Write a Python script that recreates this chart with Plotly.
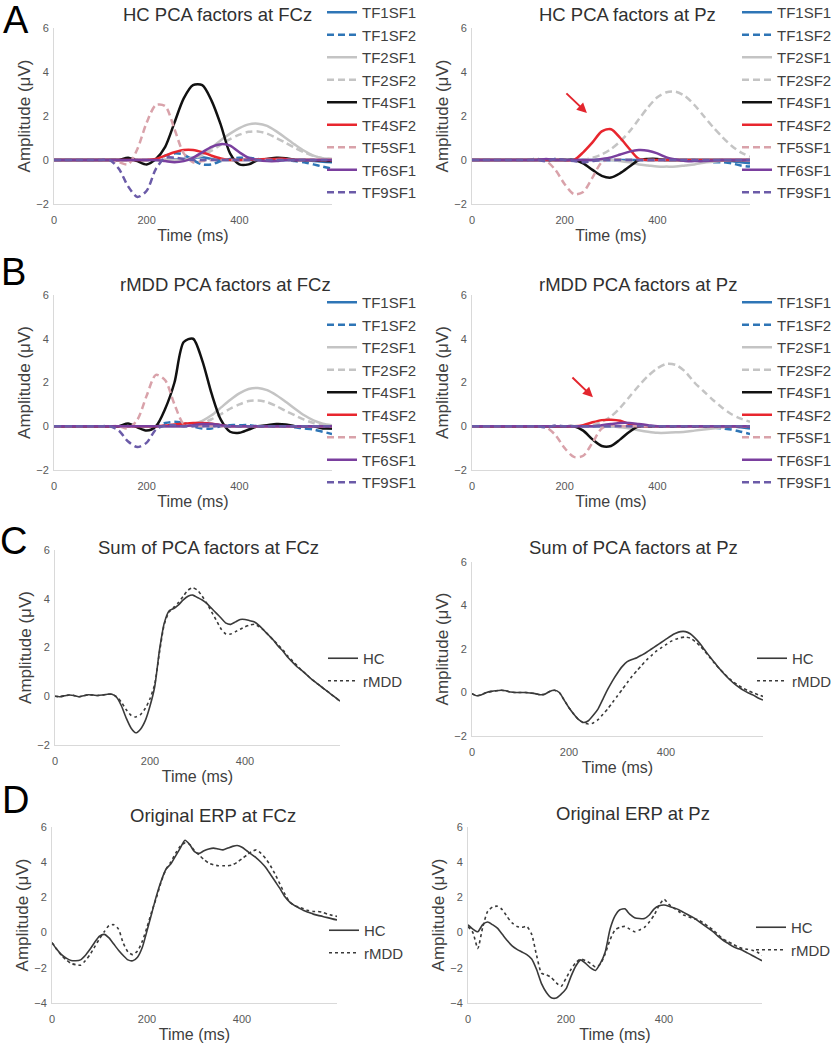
import plotly.graph_objects as go

W, H = 837, 1050
FONT = "Liberation Sans, Arial, Helvetica, sans-serif"

# ---------------- data ----------------
t20 = list(range(0, 601, 20))
t10 = list(range(0, 601, 10))
x_ticks = [0, 200, 400]

factor_names = ["TF1SF1", "TF1SF2", "TF2SF1", "TF2SF2", "TF4SF1",
                "TF4SF2", "TF5SF1", "TF6SF1", "TF9SF1"]

# HC, FCz
hc_fcz_tf1sf1 = [0,0,0,0,0,0,0,0,0,0, 0,0,0,0.02,0.05,0.10,0.12,0.05,0,0, 0,0,0,0,0,0,0,0,-0.05,-0.08, -0.10]
hc_fcz_tf1sf2 = [0,0,0,0,0,0,0,0,0,0, 0,0,0.2,0.3,0.25,0,-0.2,-0.2,-0.05,0.05, 0.1,0.1,0.05,0,0,0,-0.05,-0.1,-0.2,-0.3, -0.4]
hc_fcz_tf2sf1 = [0,0,0,0,0,0,0,0,0,0, 0,0,0,0,0,0.1,0.25,0.55,0.9,1.2, 1.45,1.62,1.65,1.55,1.3,1.0,0.7,0.42,0.2,0.08, 0.05]
hc_fcz_tf2sf2 = [0,0,0,0,0,0,0,0,0,0, 0,0,0,0,0,0.08,0.2,0.42,0.7,0.95, 1.15,1.28,1.3,1.2,1.0,0.78,0.55,0.35,0.18,0.08, 0.05]
hc_fcz_tf4sf1 = [0,0,0,0,0,0,0,0,0.1,-0.05, -0.2,0.05,0.6,1.7,2.8,3.4,3.4,2.7,1.6,0.3, -0.2,-0.2,0,0.05,0.1,0.08,0,0,0,-0.03, -0.05]
hc_fcz_tf4sf2 = [0,0,0,0,0,0,0,0,0,0, 0,0.05,0.2,0.35,0.45,0.45,0.35,0.2,0.07,0, 0,0.02,0.03,0.05,0.05,0.05,0,0,0,0, 0]
hc_fcz_tf5sf1 = [0,0,0,0,0,0,0,-0.1,-0.2,0.5, 1.7,2.5,2.45,1.4,0.3,-0.1,-0.05,0,0,0, 0,0,0,0,0,0,0,0,0,0, 0]
hc_fcz_tf6sf1 = [0,0,0,0,0,0,0,0,0,0, 0,0,-0.05,-0.1,-0.05,0.1,0.35,0.6,0.72,0.65, 0.35,0.1,0,-0.05,-0.05,0,0,0,0,0, 0]
hc_fcz_tf9sf1 = [0,0,0,0,0,0,0,-0.4,-1.2,-1.68, -1.4,-0.4,0.1,0.1,0.05,0,0,0,0,0, 0,0,0,0,0,0,0,0,0,0, 0]

# HC, Pz
hc_pz_tf1sf1 = [0,0,0,0,0,0,0,0,0,0, 0,0,0,0,0,0,0,0,0,0, 0,0,0,0,0,0,0,0,-0.05,-0.1, -0.15]
hc_pz_tf1sf2 = [0,0,0,0,0,0,0,0.05,-0.05,0.05, 0,0,0,0,0,0,0,0,0,0, 0,0,0,0,0,-0.05,-0.1,-0.1,-0.15,-0.25, -0.3]
hc_pz_tf2sf1 = [0,0,0,0,0,0,0,0,0,0, 0,0,0,0,0,0,-0.05,-0.1,-0.2,-0.25, -0.3,-0.3,-0.3,-0.25,-0.2,-0.12,-0.08,-0.04,0,0, 0]
hc_pz_tf2sf2 = [0,0,0,0,0,0,0,0,0,0, 0,0,0,0.1,0.25,0.5,0.85,1.3,1.85,2.4, 2.85,3.08,3.1,2.9,2.5,2.0,1.5,1.05,0.65,0.35, 0.15]
hc_pz_tf4sf1 = [0,0,0,0,0,0,0,0,0,0, 0,0,-0.15,-0.45,-0.72,-0.8,-0.6,-0.3,0,0.05, 0.05,0,0,0,0,0,0,0,0,0, 0]
hc_pz_tf4sf2 = [0,0,0,0,0,0,0,0,0,0, 0,0,0.35,0.8,1.3,1.4,1.0,0.5,0.05,0, 0,0,0,0,0,0,0,0,0,0, 0]
hc_pz_tf5sf1 = [0,0,0,0,0,0,0,0,-0.05,-0.45, -1.1,-1.55,-1.45,-0.8,-0.1,0.05,0.02,0,0,0, 0,0,0,0,0,0,0,0,0,0, 0]
hc_pz_tf6sf1 = [0,0,0,0,0,0,0,0,0.05,0, 0,0,0,0,0.05,0.12,0.25,0.38,0.45,0.42, 0.3,0.12,0.02,-0.05,-0.05,-0.05,-0.02,0,0,0, 0]
hc_pz_tf9sf1 = [0,0,0,0,0,0,0,0,-0.05,0.05, 0,-0.05,-0.1,-0.05,0,0,0,0,0,0, 0,0,0,0,0,0,0,0,0,0, 0]

# rMDD, FCz
md_fcz_tf1sf1 = [0,0,0,0,0,0,0,0,0,0, 0,0,0,0,0,0.05,0.1,0.1,0.05,0, 0,0,0,0,0,0,0,0,0,-0.05, -0.1]
md_fcz_tf1sf2 = [0,0,0,0,0,0,0,0,0,0, 0,0,0.15,0.2,0.15,0,-0.1,-0.1,0,0.05, 0.05,0.05,0,0,0,0,-0.05,-0.1,-0.15,-0.25, -0.35]
md_fcz_tf2sf1 = [0,0,0,0,0,0,0,0,0,0, 0,0,0,0,0,0.1,0.25,0.5,0.85,1.2, 1.5,1.7,1.75,1.65,1.42,1.12,0.8,0.5,0.27,0.12, 0.05]
md_fcz_tf2sf2 = [0,0,0,0,0,0,0,0,0,0, 0,0,0,0,0,0.05,0.15,0.32,0.55,0.8, 1.0,1.15,1.18,1.1,0.92,0.7,0.5,0.3,0.15,0.07, 0.03]
md_fcz_tf4sf1 = [0,0,0,0,0,0,0,0,0.12,-0.05, -0.2,0,0.8,2.0,3.85,4.0,3.0,1.5,0.3,-0.25, -0.3,-0.15,0,0.05,0.1,0.08,0,0,0,-0.1, -0.1]
md_fcz_tf4sf2 = [0,0,0,0,0,0,0,0,0,0, 0,0,0.03,0.08,0.12,0.15,0.15,0.12,0.05,0, 0,0,0,0,0,0,0,0,0,0, 0]
md_fcz_tf5sf1 = [0,0,0,0,0,0,0,0,-0.1,0.3, 1.4,2.35,2.1,1.0,0.1,0,0,0,0,0, 0,0,0,0,0,0,0,0,0,0, 0]
md_fcz_tf6sf1 = [0,0,0,0,0,0,0,0,0,0, 0,0,0,0,0,0.05,0.1,0.1,0.05,0, 0,0,0,0,0,0,0,0,0,0, 0]
md_fcz_tf9sf1 = [0,0,0,0,0,0,0,-0.2,-0.7,-0.95, -0.75,-0.15,0.05,0.05,0,0,0,0,0,0, 0,0,0,0,0,0,0,0,0,0, 0]

# rMDD, Pz
md_pz_tf1sf1 = [0,0,0,0,0,0,0,0,0,0, 0,0,0,0,0,0,0,0,0,0, 0,0,0,0,0,0,0,0,0,-0.05, -0.1]
md_pz_tf1sf2 = [0,0,0,0,0,0,0,0,0,0, 0,0,0,0,0,0,0,0,0,0, 0,0,0,0,0,0,-0.05,-0.1,-0.15,-0.25, -0.35]
md_pz_tf2sf1 = [0,0,0,0,0,0,0,0,0,0, 0,0,0,0,0,0,-0.05,-0.1,-0.18,-0.25, -0.3,-0.3,-0.28,-0.25,-0.2,-0.15,-0.1,-0.05,0,0, 0]
md_pz_tf2sf2 = [0,0,0,0,0,0,0,0,0,0, 0,0,0,0.05,0.2,0.45,0.85,1.35,1.85,2.3, 2.65,2.85,2.8,2.5,2.0,1.6,1.2,0.85,0.55,0.35, 0.2]
md_pz_tf4sf1 = [0,0,0,0,0,0,0,0,0,0, 0,0,-0.2,-0.6,-0.9,-0.9,-0.6,-0.25,0,0, 0,0,0,0,0,0,0,0,0,0, 0]
md_pz_tf4sf2 = [0,0,0,0,0,0,0,0,0,0, 0,0,0.05,0.18,0.28,0.3,0.25,0.1,0,0, 0,0,0,0,0,0,0,0,0,0, 0]
md_pz_tf5sf1 = [0,0,0,0,0,0,0,0,-0.05,-0.4, -1.0,-1.4,-1.35,-0.75,-0.1,0.05,0,0,0,0, 0,0,0,0,0,0,0,0,0,0, 0]
md_pz_tf6sf1 = [0,0,0,0,0,0,0,0,0,0, 0,0,0,0,0.05,0.1,0.15,0.15,0.1,0.05, 0,0,0,0,0,0,0,0,0,0, 0]
md_pz_tf9sf1 = [0,0,0,0,0,0,0,0,-0.05,0.03, 0,0,0,0,0,0,0,0,0,0, 0,0,0,0,0,0,0,0,0,0, 0]

# Sum of PCA factors (10 ms steps)
sum_fcz_hc = [0,-0.02,0.02,0.05,0.03,-0.02,0.02,0.06,0.05,0.03,
              0.05,0.08,0.08,-0.05,-0.4,-0.9,-1.3,-1.5,-1.35,-1.0,
              -0.4,0.4,1.9,3.0,3.5,3.6,3.75,3.95,4.1,4.15,
              4.05,3.95,3.8,3.6,3.4,3.2,3.0,2.95,3.05,3.15,
              3.15,3.1,3.05,2.9,2.7,2.5,2.3,2.05,1.85,1.6,
              1.4,1.2,1.05,0.88,0.7,0.55,0.4,0.25,0.1,-0.05,
              -0.2]
sum_fcz_md = [0,-0.02,0.02,0.05,0.03,-0.02,0.02,0.06,0.05,0.03,
              0.05,0.08,0.08,-0.02,-0.25,-0.55,-0.78,-0.85,-0.75,-0.5,
              -0.1,0.5,1.8,2.95,3.45,3.65,3.85,4.1,4.35,4.45,
              4.35,4.1,3.8,3.45,3.1,2.75,2.55,2.55,2.65,2.75,
              2.85,2.92,2.95,2.85,2.7,2.5,2.3,2.1,1.9,1.65,
              1.45,1.25,1.05,0.88,0.7,0.55,0.4,0.25,0.1,-0.05,
              -0.2]
sum_pz_hc = [-0.05,-0.15,-0.1,0.0,0.05,0.08,0.1,0.08,0.02,0.0,
             0.0,0.0,-0.02,-0.05,-0.1,-0.08,0.05,0.1,0.0,-0.35,
             -0.7,-1.0,-1.25,-1.38,-1.3,-1.05,-0.75,-0.3,0.15,0.55,
             0.9,1.2,1.42,1.52,1.6,1.72,1.85,2.0,2.15,2.3,
             2.45,2.6,2.72,2.8,2.8,2.7,2.5,2.25,1.95,1.65,
             1.38,1.1,0.85,0.62,0.42,0.25,0.1,-0.02,-0.12,-0.25,
             -0.35]
sum_pz_md = [-0.05,-0.15,-0.1,0.0,0.05,0.08,0.1,0.08,0.02,0.0,
             0.0,0.0,-0.02,-0.05,-0.1,-0.08,0.05,0.1,0.0,-0.35,
             -0.7,-1.0,-1.25,-1.4,-1.45,-1.4,-1.25,-1.0,-0.75,-0.45,
             -0.15,0.15,0.45,0.75,1.0,1.25,1.5,1.7,1.9,2.05,
             2.2,2.35,2.45,2.52,2.55,2.5,2.35,2.15,1.9,1.62,
             1.35,1.1,0.87,0.65,0.47,0.32,0.18,0.08,-0.02,-0.1,
             -0.18]

# Original ERP (10 ms steps)
erp_fcz_hc = [-0.57,-0.95,-1.25,-1.45,-1.58,-1.6,-1.55,-1.3,-0.95,-0.55,
              -0.2,-0.1,-0.3,-0.65,-1.0,-1.3,-1.55,-1.6,-1.4,-0.85,
              0.1,1.1,2.1,2.95,3.6,3.9,4.35,4.8,5.25,5.0,
              4.6,4.5,4.65,4.75,4.8,4.75,4.7,4.8,4.9,4.95,
              4.85,4.65,4.45,4.25,4.0,3.7,3.3,2.9,2.5,2.05,
              1.75,1.55,1.4,1.25,1.15,1.05,0.98,0.92,0.85,0.78,
              0.72]
erp_fcz_md = [-0.57,-0.95,-1.3,-1.55,-1.75,-1.82,-1.85,-1.6,-1.25,-0.8,
              -0.35,0.05,0.4,0.45,0.2,-0.6,-1.1,-1.25,-1.05,-0.5,
              0.3,1.2,2.0,2.9,3.6,4.0,4.5,4.9,5.1,5.0,
              4.65,4.4,4.15,3.95,3.85,3.8,3.8,3.8,3.85,4.0,
              4.2,4.4,4.6,4.7,4.5,4.2,3.8,3.3,2.75,2.2,
              1.75,1.55,1.45,1.35,1.25,1.2,1.2,1.15,1.05,0.98,
              0.92]
erp_pz_hc = [0.44,0.2,0.05,0.45,0.6,0.45,0.25,-0.1,-0.45,-0.75,
             -0.95,-1.1,-1.25,-1.5,-2.1,-2.9,-3.4,-3.7,-3.72,-3.5,
             -3.2,-2.5,-1.9,-1.55,-1.75,-2.0,-2.15,-1.75,-1.1,0.2,
             0.95,1.3,1.35,1.05,0.85,0.8,0.8,1.0,1.35,1.52,
             1.57,1.5,1.4,1.3,1.15,1.0,0.85,0.65,0.45,0.25,
             0.05,-0.2,-0.42,-0.6,-0.78,-0.9,-1.0,-1.15,-1.3,-1.45,
             -1.6]
erp_pz_md = [0.34,0.0,-0.9,0.3,1.2,1.45,1.5,1.3,0.9,0.55,
             0.35,0.3,0.35,-0.1,-1.3,-2.3,-2.4,-2.55,-2.85,-3.05,
             -2.6,-2.1,-1.7,-1.5,-1.6,-1.75,-1.95,-1.8,-1.2,-0.4,
             0.15,0.3,0.35,0.2,0.05,0.15,0.3,0.6,1.0,1.55,
             1.9,1.6,1.4,1.2,1.0,0.9,0.8,0.72,0.55,0.35,
             0.15,-0.1,-0.35,-0.5,-0.65,-0.8,-0.9,-0.95,-1.0,-1.1,
             -1.3]

group_names = ["HC", "rMDD"]

# ---------------- styling ----------------
factor_colors = ["#2E75B6", "#2E75B6", "#C4C4C4", "#C4C4C4", "#111111",
                 "#E8262E", "#D9A2AA", "#7A3F9E", "#6B5BA8"]
factor_dash = ["solid", "7px,4px", "solid", "7px,4px", "solid",
               "solid", "7px,4px", "solid", "7px,4px"]

factor_panels = [
    [hc_fcz_tf1sf1, hc_fcz_tf1sf2, hc_fcz_tf2sf1, hc_fcz_tf2sf2, hc_fcz_tf4sf1,
     hc_fcz_tf4sf2, hc_fcz_tf5sf1, hc_fcz_tf6sf1, hc_fcz_tf9sf1],
    [hc_pz_tf1sf1, hc_pz_tf1sf2, hc_pz_tf2sf1, hc_pz_tf2sf2, hc_pz_tf4sf1,
     hc_pz_tf4sf2, hc_pz_tf5sf1, hc_pz_tf6sf1, hc_pz_tf9sf1],
    [md_fcz_tf1sf1, md_fcz_tf1sf2, md_fcz_tf2sf1, md_fcz_tf2sf2, md_fcz_tf4sf1,
     md_fcz_tf4sf2, md_fcz_tf5sf1, md_fcz_tf6sf1, md_fcz_tf9sf1],
    [md_pz_tf1sf1, md_pz_tf1sf2, md_pz_tf2sf1, md_pz_tf2sf2, md_pz_tf4sf1,
     md_pz_tf4sf2, md_pz_tf5sf1, md_pz_tf6sf1, md_pz_tf9sf1],
]
group_panels = [
    [sum_fcz_hc, sum_fcz_md],
    [sum_pz_hc, sum_pz_md],
    [erp_fcz_hc, erp_fcz_md],
    [erp_pz_hc, erp_pz_md],
]

titles = ["HC PCA factors at FCz", "HC PCA factors at Pz",
          "rMDD PCA factors at FCz", "rMDD PCA factors at Pz",
          "Sum of PCA factors at FCz", "Sum of PCA factors at Pz",
          "Original ERP at FCz", "Original ERP at Pz"]

# panel geometry in pixels: x0, x1, y_top, y_bottom, ymin
geo = [
    (54, 332, 28, 204, -2), (472, 750, 28, 204, -2),
    (54, 332, 295, 470, -2), (472, 750, 295, 470, -2),
    (55, 340, 550, 745, -2), (472, 763, 562, 736, -2),
    (52, 337, 827, 1003, -4), (468, 762, 827, 1003, -4),
]
title_pos = [(217, 15), (627, 15), (226, 285), (638, 285),
             (208, 547), (633, 547), (213, 815), (633, 813)]
# (legend box left, first entry centre) in pixels
legend_pos = [(322, 12), (737, 12), (322, 302), (737, 302),
              (323, 658), (752, 658), (324, 930), (751, 927)]
letters = [("A", 16, 20), ("B", 13, 272), ("C", 13, 541), ("D", 16, 800)]


def px(xp):
    return xp / W


def py(yp):
    return 1 - yp / H


fig = go.Figure()
LEG_Y_OFF = 16

for p in range(8):
    k = p + 1
    xa = "x" if k == 1 else f"x{k}"
    ya = "y" if k == 1 else f"y{k}"
    leg = "legend" if k == 1 else f"legend{k}"
    if p < 4:
        for name, vals, col, dash in zip(factor_names, factor_panels[p], factor_colors, factor_dash):
            fig.add_trace(go.Scatter(
                x=t20, y=vals, name=name, mode="lines", xaxis=xa, yaxis=ya,
                legend=leg, line=dict(color=col, width=2.5, dash=dash,
                                      shape="spline", smoothing=0.8)))
    else:
        for name, vals, dash in zip(group_names, group_panels[p - 4], ["solid", "dot"]):
            fig.add_trace(go.Scatter(
                x=t10, y=vals, name=name, mode="lines", xaxis=xa, yaxis=ya,
                legend=leg, line=dict(color="#3A3A3A", width=1.6, dash=dash,
                                      shape="spline", smoothing=0.6)))

layout = dict(
    width=W, height=H, margin=dict(l=0, r=0, t=0, b=0, autoexpand=False),
    paper_bgcolor="white", plot_bgcolor="white",
    font=dict(family=FONT, color="#404040"),
    showlegend=True, annotations=[],
)

for p in range(8):
    k = p + 1
    x0, x1, yt, yb, ymin = geo[p]
    xkey = "xaxis" if k == 1 else f"xaxis{k}"
    ykey = "yaxis" if k == 1 else f"yaxis{k}"
    xa = "x" if k == 1 else f"x{k}"
    ya = "y" if k == 1 else f"y{k}"
    layout[xkey] = dict(
        domain=[px(x0), px(x1)], anchor=ya, range=[0, 600],
        tickvals=x_ticks, showgrid=False, zeroline=False,
        showline=True, linecolor="#D9D9D9", linewidth=1, ticks="", ticklen=0,
        tickfont=dict(size=11, color="#595959"), ticklabelstandoff=6,
        title=dict(text="Time (ms)", font=dict(size=16, color="#404040"), standoff=4),
    )
    yticks = list(range(ymin, 7, 2))
    layout[ykey] = dict(
        domain=[py(yb), py(yt)], anchor=xa, range=[ymin, 6],
        tickvals=yticks, showgrid=False, zeroline=False,
        showline=True, linecolor="#D9D9D9", linewidth=1, ticks="", ticklen=0,
        tickfont=dict(size=11, color="#595959"), ticklabelstandoff=2,
        title=dict(text="Amplitude (μV)", font=dict(size=17, color="#404040"), standoff=1),
    )
    leg = "legend" if k == 1 else f"legend{k}"
    lx, ly = legend_pos[p]
    layout[leg] = dict(
        x=px(lx), y=py(ly - LEG_Y_OFF), xanchor="left", yanchor="top",
        bgcolor="rgba(0,0,0,0)", borderwidth=0, tracegroupgap=0,
        font=dict(size=15, color="#404040", family=FONT), traceorder="normal",
    )
    tx, ty = title_pos[p]
    layout["annotations"].append(dict(
        text=titles[p], x=px(tx), y=py(ty), xref="paper", yref="paper",
        xanchor="center", yanchor="middle", showarrow=False,
        font=dict(size=18.5, color="#303030", family=FONT)))

for letter, lx, ly in letters:
    layout["annotations"].append(dict(
        text=letter, x=px(lx), y=py(ly), xref="paper", yref="paper",
        xanchor="center", yanchor="middle", showarrow=False,
        font=dict(size=38, color="black", family=FONT)))

# red arrows pointing at the TF4SF2 component at Pz
for xa, ya, hx, hy in [("x2", "y2", 248, 2.14), ("x4", "y4", 261, 1.33)]:
    layout["annotations"].append(dict(
        text="", x=hx, y=hy, xref=xa, yref=ya, ax=-22, ay=-21,
        showarrow=True, arrowhead=2, arrowsize=1, arrowwidth=2,
        arrowcolor="#E3262E"))

fig.update_layout(**layout)
fig.write_html(
    "out.html",
    config={"displayModeBar": False},
    post_script="document.body.style.margin='0px';document.body.style.overflow='hidden';",
)
